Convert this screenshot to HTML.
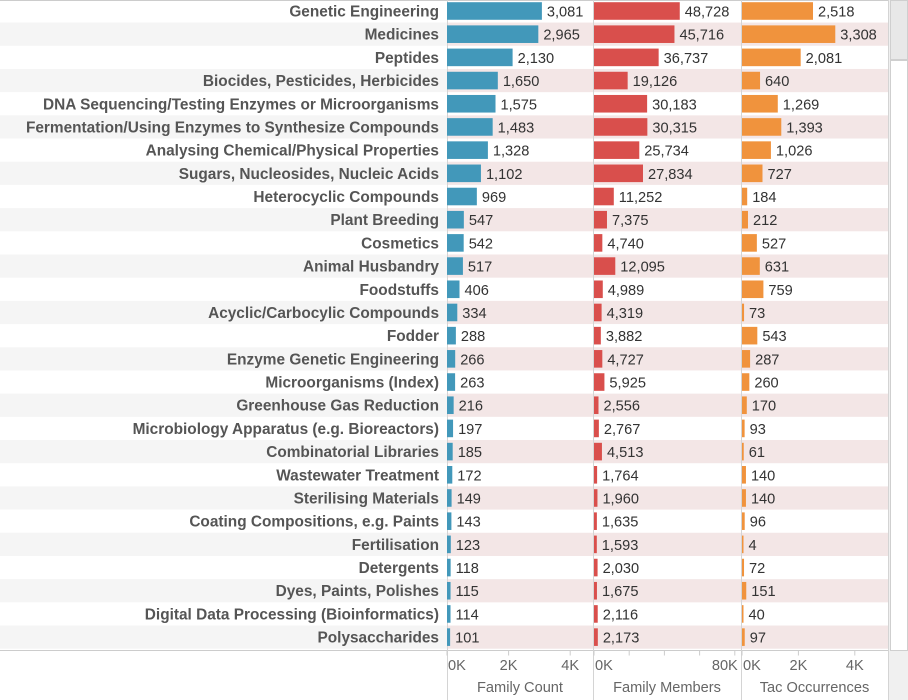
<!DOCTYPE html>
<html><head><meta charset="utf-8"><style>
body{margin:0;width:908px;height:700px;background:#fff;overflow:hidden;font-family:"Liberation Sans",Arial,sans-serif}
svg{display:block}
</style></head><body>
<svg id="chart" width="908" height="700"></svg>
<script>
const categories=["Genetic Engineering","Medicines","Peptides","Biocides, Pesticides, Herbicides","DNA Sequencing/Testing Enzymes or Microorganisms","Fermentation/Using Enzymes to Synthesize Compounds","Analysing Chemical/Physical Properties","Sugars, Nucleosides, Nucleic Acids","Heterocyclic Compounds","Plant Breeding","Cosmetics","Animal Husbandry","Foodstuffs","Acyclic/Carbocylic Compounds","Fodder","Enzyme Genetic Engineering","Microorganisms (Index)","Greenhouse Gas Reduction","Microbiology Apparatus (e.g. Bioreactors)","Combinatorial Libraries","Wastewater Treatment","Sterilising Materials","Coating Compositions, e.g. Paints","Fertilisation","Detergents","Dyes, Paints, Polishes","Digital Data Processing (Bioinformatics)","Polysaccharides"];
const familyCount=[3081,2965,2130,1650,1575,1483,1328,1102,969,547,542,517,406,334,288,266,263,216,197,185,172,149,143,123,118,115,114,101];
const familyMembers=[48728,45716,36737,19126,30183,30315,25734,27834,11252,7375,4740,12095,4989,4319,3882,4727,5925,2556,2767,4513,1764,1960,1635,1593,2030,1675,2116,2173];
const tacOccurrences=[2518,3308,2081,640,1269,1393,1026,727,184,212,527,631,759,73,543,287,260,170,93,61,140,140,96,4,72,151,40,97];
const fcTicks=[0,2000,4000], fcTickLabels=["0K","2K","4K"];
const fmTicks=[0,20000,40000,60000,80000], fmTickLabels=["0K","","","","80K"];
const tacTicks=[0,2000,4000], tacTickLabels=["0K","2K","4K"];

const NS="http://www.w3.org/2000/svg";
const svg=document.getElementById('chart');
function el(t,a,p){const e=document.createElementNS(NS,t);for(const k in a)e.setAttribute(k,a[k]);(p||svg).appendChild(e);return e;}
const top0=-0.6,rowH=23.19,n=categories.length,gridBottom=650.5;
const panels=[
 {name:'family-count',title:'Family Count',x0:447,x1:593,data:familyCount,color:'#4298ba',scale:v=>447+v*0.0308,ticks:fcTicks,labels:fcTickLabels},
 {name:'family-members',title:'Family Members',x0:593,x1:741,data:familyMembers,color:'#d94f4c',scale:v=>594+v*0.00176,ticks:fmTicks,labels:fmTickLabels},
 {name:'tac-occurrences',title:'Tac Occurrences',x0:741,x1:888,data:tacOccurrences,color:'#f0933d',scale:v=>742+v*0.0282,ticks:tacTicks,labels:tacTickLabels}
];
for(let i=0;i<n;i++){
 const y=top0+i*rowH;
 if(i%2===1){
  const lb=el('rect',{x:0,y:y,width:447,height:rowH,fill:'#f5f5f5'});
  
  
  const rb=el('rect',{x:447,y:y,width:441,height:rowH,fill:'#f3e6e6'});
  
  
 }
 const t=el('text',{x:439,y:y+rowH/2+5.5,'text-anchor':'end','font-size':'15.4','font-weight':'bold',fill:'#555'});
 t.textContent=categories[i];
 
 
}
el('line',{x1:0,y1:0.5,x2:888,y2:0.5,stroke:'#ccc'});
el('line',{x1:0,y1:gridBottom,x2:888,y2:gridBottom,stroke:'#ccc'});
panels.forEach(p=>{
 el('line',{x1:p.x0+0.5,y1:0,x2:p.x0+0.5,y2:700,stroke:'#d4d4d4'});
 for(let i=0;i<n;i++){
  const y=top0+i*rowH;
  const w=Math.max(1.5,p.scale(p.data[i])-p.scale(0));
  const b=el('rect',{x:p.scale(0),y:y+2.8,width:w,height:rowH-5.6,fill:p.color});
  
  
  const t=el('text',{x:p.scale(0)+w+5,y:y+rowH/2+5.5,'font-size':'14.6',fill:'#333'});
  t.textContent=p.data[i].toLocaleString('en-US');
  
  
 }
 p.ticks.forEach((v,j)=>{
  const x=p.scale(v);
  el('line',{x1:x,y1:gridBottom,x2:x,y2:gridBottom+5,stroke:'#ccc'});
  if(p.labels[j]){
   const anchor=j===0?'start':(j===p.ticks.length-1&&p.name==='family-members'?'end':'middle');
   const tx=el('text',{x:j===0?x+1:(anchor==='end'?x+3:x),y:670,'font-size':'14.6',fill:'#666','text-anchor':anchor});
   tx.textContent=p.labels[j];
   
   
  }
 });
 const at=el('text',{x:(p.x0+p.x1)/2,y:692,'font-size':'14.6',fill:'#666','text-anchor':'middle'});
 at.textContent=p.title;
 
 
});
el('line',{x1:888.5,y1:0,x2:888.5,y2:700,stroke:'#d4d4d4'});
const sb=el('rect',{x:889,y:0,width:19,height:700,fill:'#f0f0f0'});


const th=el('rect',{x:890.5,y:0.5,width:17,height:59,fill:'#e8e8e8',stroke:'#cfcfcf'});


const tr=el('rect',{x:890.5,y:60.5,width:17,height:590,fill:'#fff',stroke:'#cfcfcf'});


</script>
</body></html>
